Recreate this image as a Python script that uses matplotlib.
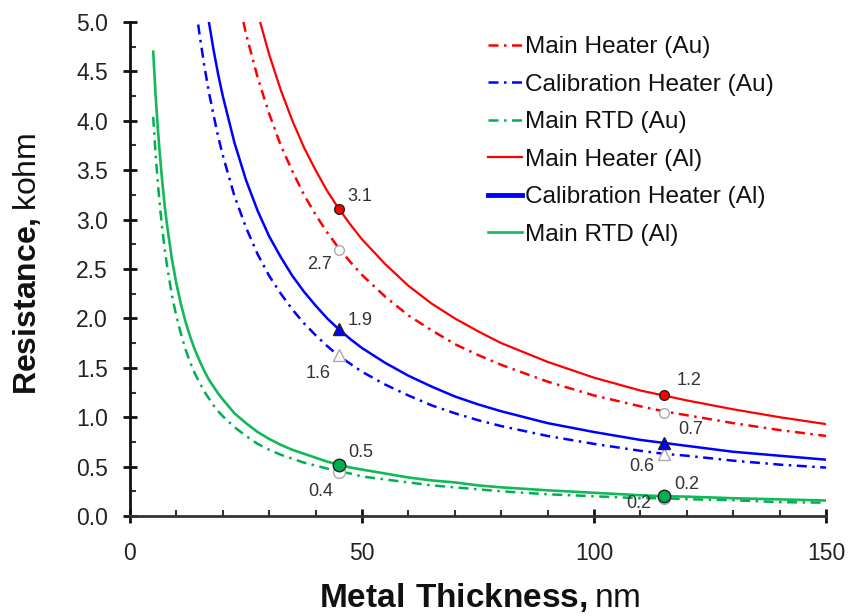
import matplotlib
matplotlib.use("Agg")
import matplotlib.pyplot as plt
from matplotlib.ticker import MultipleLocator, FormatStrFormatter

plt.rcParams['font.family'] = ['Liberation Sans', 'DejaVu Sans']
plt.rcParams['mathtext.fontset'] = 'custom'
plt.rcParams['mathtext.rm'] = 'Liberation Sans'
plt.rcParams['mathtext.bf'] = 'Liberation Sans:bold'

# ---- data ----
thickness_heater_al = [27.5, 30, 32.5, 35, 37.5, 40, 42.5, 45, 47.5, 50, 55, 60, 65, 70, 75,
                       80, 90, 100, 110, 115, 120, 130, 140, 150]
main_heater_al = [5.09, 4.67, 4.31, 4.00, 3.73, 3.50, 3.29, 3.11, 2.95, 2.80, 2.55, 2.33,
                  2.15, 2.00, 1.87, 1.75, 1.56, 1.40, 1.27, 1.22, 1.17, 1.08, 1.00, 0.93]

thickness_heater_au = [22.5, 25, 27.5, 30, 32.5, 35, 37.5, 40, 42.5, 45, 47.5, 50, 55, 60,
                       65, 70, 75, 80, 90, 100, 110, 115, 120, 130, 140, 150]
main_heater_au = [5.42, 4.88, 4.44, 4.07, 3.75, 3.49, 3.25, 3.05, 2.87, 2.71, 2.57, 2.44,
                  2.22, 2.03, 1.88, 1.74, 1.63, 1.53, 1.36, 1.22, 1.11, 1.06, 1.02, 0.94,
                  0.87, 0.81]

thickness_cal_al = [16, 17, 18, 19, 20, 22.5, 25, 27.5, 30, 32.5, 35, 37.5, 40, 42.5, 45,
                    47.5, 50, 55, 60, 65, 70, 75, 80, 90, 100, 110, 115, 120, 130, 140, 150]
cal_heater_al = [5.31, 5.00, 4.72, 4.47, 4.25, 3.78, 3.40, 3.09, 2.83, 2.62, 2.43, 2.27,
                 2.13, 2.00, 1.89, 1.79, 1.70, 1.55, 1.42, 1.31, 1.21, 1.13, 1.06, 0.94,
                 0.85, 0.77, 0.74, 0.71, 0.65, 0.61, 0.57]

thickness_cal_au = [14, 15, 16, 17, 18, 19, 20, 22.5, 25, 27.5, 30, 32.5, 35, 37.5, 40,
                    42.5, 45, 47.5, 50, 55, 60, 65, 70, 75, 80, 90, 100, 110, 115, 120,
                    130, 140, 150]
cal_heater_au = [5.21, 4.87, 4.56, 4.29, 4.06, 3.84, 3.65, 3.24, 2.92, 2.65, 2.43, 2.25,
                 2.09, 1.95, 1.83, 1.72, 1.62, 1.54, 1.46, 1.33, 1.22, 1.12, 1.04, 0.97,
                 0.91, 0.81, 0.73, 0.66, 0.63, 0.61, 0.56, 0.52, 0.49]

thickness_rtd = [5, 5.5, 6, 6.5, 7, 7.5, 8, 9, 10, 11, 12, 13, 14, 15, 16, 17, 18, 19, 20,
                 22.5, 25, 27.5, 30, 32.5, 35, 37.5, 40, 42.5, 45, 47.5, 50, 55, 60, 65,
                 70, 75, 80, 90, 100, 110, 115, 120, 130, 140, 150]
main_rtd_al = [4.70, 4.27, 3.92, 3.62, 3.36, 3.13, 2.94, 2.61, 2.35, 2.14, 1.96, 1.81,
               1.68, 1.57, 1.47, 1.38, 1.31, 1.24, 1.18, 1.04, 0.94, 0.85, 0.78, 0.72,
               0.67, 0.63, 0.59, 0.55, 0.52, 0.49, 0.47, 0.43, 0.39, 0.36, 0.34, 0.31,
               0.29, 0.26, 0.235, 0.21, 0.20, 0.196, 0.18, 0.168, 0.157]
main_rtd_au = [4.04, 3.67, 3.37, 3.11, 2.89, 2.69, 2.53, 2.24, 2.02, 1.84, 1.68, 1.55,
               1.44, 1.35, 1.26, 1.19, 1.12, 1.06, 1.01, 0.90, 0.81, 0.73, 0.67, 0.62,
               0.58, 0.54, 0.51, 0.48, 0.45, 0.43, 0.40, 0.37, 0.34, 0.31, 0.29, 0.27,
               0.25, 0.22, 0.20, 0.18, 0.18, 0.17, 0.16, 0.14, 0.135]

marker_x = [45, 115]
pts_heater_al = [3.11, 1.22]
pts_cal_al = [1.89, 0.74]
pts_rtd_al = [0.52, 0.20]
pts_heater_au = [2.69, 1.04]
pts_cal_au = [1.63, 0.63]
pts_rtd_au = [0.45, 0.18]

labels_heater_al = ["3.1", "1.2"]
labels_cal_al = ["1.9", "0.7"]
labels_rtd_al = ["0.5", "0.2"]
labels_heater_au = ["2.7", ""]
labels_cal_au = ["1.6", "0.6"]
labels_rtd_au = ["0.4", "0.2"]

legend_labels = ["Main Heater (Au)", "Calibration Heater (Au)", "Main RTD (Au)",
                 "Main Heater (Al)", "Calibration Heater (Al)", "Main RTD (Al)"]

x_ticks = [0, 50, 100, 150]

# ---- figure ----
W, H = 849, 616
fig = plt.figure(figsize=(W / 100, H / 100), dpi=100)
ax = fig.add_axes([130 / W, 1 - 516 / H, (826 - 130) / W, (516 - 22) / H])

RED, BLUE, GREEN, LGREEN = "#FF0000", "#0000FF", "#00B050", "#12B85A"
dashdot = (0, (4, 2.2, 1, 2.2))

ax.plot(thickness_heater_au, main_heater_au, color=RED, lw=1.8, ls=dashdot, label=legend_labels[0], zorder=2)
ax.plot(thickness_cal_au, cal_heater_au, color=BLUE, lw=1.8, ls=dashdot, label=legend_labels[1], zorder=2)
ax.plot(thickness_rtd, main_rtd_au, color=GREEN, lw=1.8, ls=dashdot, label=legend_labels[2], zorder=2)
ax.plot(thickness_heater_al, main_heater_al, color=RED, lw=1.6, label=legend_labels[3], zorder=3)
ax.plot(thickness_cal_al, cal_heater_al, color=BLUE, lw=1.8, label=legend_labels[4], zorder=3)
ax.plot(thickness_rtd, main_rtd_al, color=LGREEN, lw=1.9, label=legend_labels[5], zorder=3)

# hollow Au markers
ax.plot(marker_x, pts_heater_au, ls='none', marker='o', ms=7, mfc='white', mec='#AAAAAA', mew=1, zorder=4)
ax.plot(marker_x, pts_cal_au, ls='none', marker='^', ms=8.5, mfc='white', mec='#AAAAAA', mew=1, zorder=4)
ax.plot(marker_x, pts_rtd_au, ls='none', marker='o', ms=8.5, mfc='white', mec='#AAAAAA', mew=1, zorder=4)
# filled Al markers
ax.plot(marker_x, pts_heater_al, ls='none', marker='o', ms=7, mfc=RED, mec='#222222', mew=1, zorder=5)
ax.plot(marker_x, pts_cal_al, ls='none', marker='^', ms=9, mfc=BLUE, mec='#222222', mew=1, zorder=5)
ax.plot(marker_x, pts_rtd_al, ls='none', marker='o', ms=9, mfc=GREEN, mec='#222222', mew=1, zorder=5)

lab_kw = dict(textcoords='offset pixels', fontsize=13, color='#333333', va='center', zorder=6)
al_offsets = [[(9, 12), (13, 15)], [(9, 9), (15, 13)], [(9, 12), (11, 12)]]
au_offsets = [[(-7, -14), (-7, -14)], [(-8, -19), (-9, -13)], [(-6, -20), (-12, -5)]]
for vals, labs, offs in zip([pts_heater_al, pts_cal_al, pts_rtd_al],
                            [labels_heater_al, labels_cal_al, labels_rtd_al], al_offsets):
    for x, y, s, o in zip(marker_x, vals, labs, offs):
        if s:
            ax.annotate(s, xy=(x, y), xytext=o, ha='left', **lab_kw)
for vals, labs, offs in zip([pts_heater_au, pts_cal_au, pts_rtd_au],
                            [labels_heater_au, labels_cal_au, labels_rtd_au], au_offsets):
    for x, y, s, o in zip(marker_x, vals, labs, offs):
        if s:
            ax.annotate(s, xy=(x, y), xytext=o, ha='right', **lab_kw)

ax.set_xlim(0, 150)
ax.set_ylim(0, 5.0)
ax.set_xticks(x_ticks)
ax.xaxis.set_minor_locator(MultipleLocator(10))
ax.yaxis.set_major_locator(MultipleLocator(0.5))
ax.yaxis.set_minor_locator(MultipleLocator(0.25))
ax.yaxis.set_major_formatter(FormatStrFormatter('%.1f'))

for s in ['top', 'right']:
    ax.spines[s].set_visible(False)
ax.spines['left'].set_color('#111111')
ax.spines['bottom'].set_color('#333333')
ax.spines['left'].set_linewidth(2)
ax.spines['bottom'].set_linewidth(2)

ax.tick_params(axis='both', which='major', direction='inout', length=10, width=2,
               colors='#111111', labelsize=16.5, labelcolor='#222222')
ax.tick_params(axis='both', which='minor', direction='in', length=4, width=1.5, colors='#333333')
ax.tick_params(axis='y', which='major', pad=11)
ax.tick_params(axis='x', which='major', pad=14)

fig.text(27 / W, 1 - 264 / H, r"$\mathbf{Resistance,}$kohm", rotation=90,
         ha='center', va='center', fontsize=23, color='#111111')
fig.text(480 / W, 1 - 598 / H, r"$\mathbf{Metal\ Thickness,}$nm",
         ha='center', va='center', fontsize=24, color='#111111')

leg = ax.legend(loc='upper left', bbox_to_anchor=(488 / W, 1 - 36 / H),
                bbox_transform=fig.transFigure, frameon=False, fontsize=17.6,
                handlelength=1.4, handletextpad=0.13, labelspacing=0.63,
                borderpad=0, borderaxespad=0)
for t in leg.get_texts():
    t.set_color('#111111')
leg.get_lines()[4].set_linewidth(3.5)

fig.savefig("out.png", dpi=100)
